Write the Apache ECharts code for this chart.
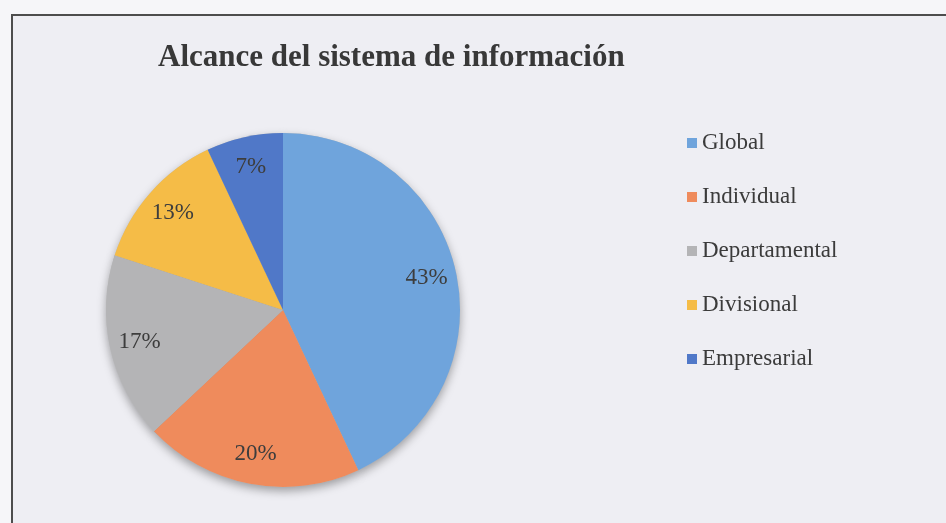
<!DOCTYPE html>
<html>
<head>
<meta charset="utf-8">
<script src="https://cdn.jsdelivr.net/npm/echarts@6/dist/echarts.min.js"></script>
<style>
html,body{margin:0;padding:0;background:#f6f6f9;}
#chart{width:946px;height:523px;}
</style>
</head>
<body>
<div id="chart"></div>
<script>
const titleText = 'Alcance del sistema de información';
const categories = ['Global', 'Individual', 'Departamental', 'Divisional', 'Empresarial'];
const values = [43, 20, 17, 13, 7];
const colors = ['#6fa4dc', '#ef8b5c', '#b4b4b6', '#f5bc47', '#5078c8'];

const chart = echarts.init(document.getElementById('chart'), null, {renderer: 'canvas'});
const data = categories.map((c, i) => ({name: c, value: values[i], itemStyle: {color: colors[i]}}));
const serif = '"Liberation Serif", "Times New Roman", serif';

chart.setOption({
  backgroundColor: '#f6f6f9',
  animation: false,
  graphic: [
    {type: 'rect', z: -10, shape: {x: 12, y: 15, width: 960, height: 540},
     style: {fill: '#eeeef3', stroke: '#4d4d4d', lineWidth: 2}}
  ],
  title: {
    text: titleText,
    left: 153, top: 37,
    textStyle: {fontFamily: serif, fontWeight: 'bold', fontSize: 31, color: '#383838'}
  },
  legend: {
    orient: 'vertical',
    left: 687, top: 131,
    padding: 0,
    icon: 'rect', itemWidth: 10, itemHeight: 10,
    itemGap: 30,
    selectedMode: false,
    data: categories,
    textStyle: {fontFamily: serif, fontSize: 23, color: '#3b3b3b', lineHeight: 24}
  },
  series: [
    {
      type: 'pie', name: 'main', z: 2,
      center: [283, 310], radius: 177,
      startAngle: 90, clockwise: true,
      silent: true, label: {show: false}, labelLine: {show: false},
      itemStyle: {borderWidth: 0},
      data: data
    },
    {
      type: 'pie', name: 'shadow', z: 1,
      center: [283, 310], radius: 177,
      startAngle: 90, clockwise: true,
      silent: true, label: {show: false}, labelLine: {show: false},
      itemStyle: {color: '#bbbbbb', shadowBlur: 10, shadowColor: 'rgba(0,0,0,0.35)', shadowOffsetY: 4, shadowOffsetX: 0},
      data: categories.map((c, i) => ({name: c, value: values[i]}))
    },
    {
      type: 'pie', name: 'labels', z: 3,
      center: [283, 310], radius: [112, 176],
      startAngle: 90, clockwise: true,
      silent: true,
      itemStyle: {color: 'rgba(0,0,0,0)'},
      label: {show: true, position: 'inside', formatter: '{c}%',
              fontFamily: serif, fontSize: 23, color: '#3d3d3d'},
      labelLine: {show: false},
      data: categories.map((c, i) => ({name: c, value: values[i]}))
    }
  ]
});
</script>
</body>
</html>
